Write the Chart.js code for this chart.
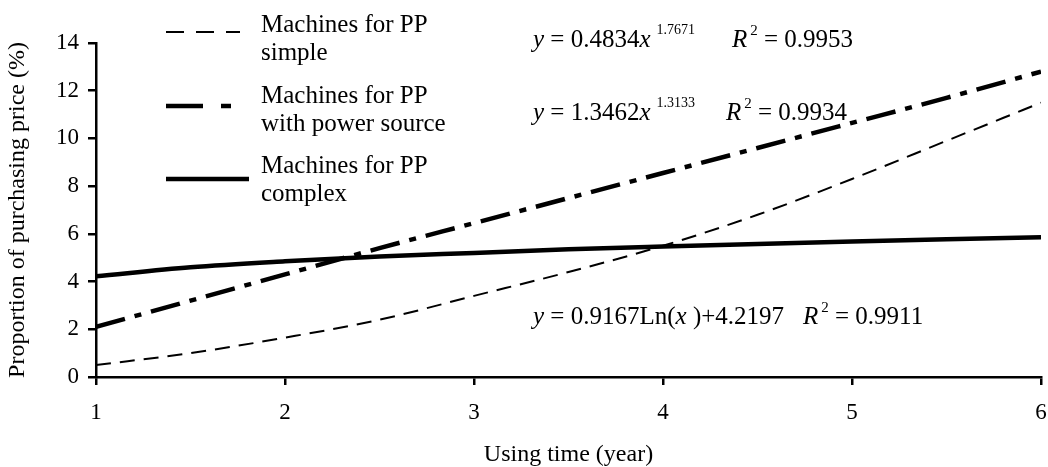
<!DOCTYPE html>
<html>
<head>
<meta charset="utf-8">
<script src="https://cdn.jsdelivr.net/npm/chart.js@4"></script>
<style>
  html, body { margin: 0; padding: 0; background: #fff; }
  #wrap { width: 1048px; height: 467px; position: relative; }
</style>
</head>
<body>
<div id="wrap"><canvas id="chart"></canvas></div>
<script>
var years = [1, 1.5, 2, 2.5, 3, 3.5, 4, 4.5, 5, 5.5, 6];
var ppSimple = [0.5, 1.0, 1.65, 2.4, 3.4, 4.4, 5.5, 6.8, 8.3, 9.9, 11.5];
var ppPower = [2.1, 3.2, 4.3, 5.4, 6.45, 7.5, 8.55, 9.6, 10.65, 11.7, 12.8];
var ppComplex = [4.22, 4.6, 4.85, 5.05, 5.2, 5.35, 5.47, 5.58, 5.68, 5.77, 5.86];
var seriesNames = [["Machines for PP", "simple"], ["Machines for PP", "with power source"], ["Machines for PP", "complex"]];
var yTicks = [0, 2, 4, 6, 8, 10, 12, 14];
var xTicks = [1, 2, 3, 4, 5, 6];
var equations = [
    { main: [["y", 1], [" = 0.4834", 0], ["x", 1]], pow: "1.7671", r2: "0.9953" },
    { main: [["y", 1], [" = 1.3462", 0], ["x", 1]], pow: "1.3133", r2: "0.9934" },
    { main: [["y", 1], [" = 0.9167Ln(", 0], ["x", 1], [" )+4.2197", 0]], pow: "", r2: "0.9911" }
];

var SERIF = '"Liberation Serif", "Times New Roman", serif';

function pts(ys) {
    return years.map(function (x, i) { return { x: x, y: ys[i] }; });
}

// legend drawn by hand, the series names are two lines each
var legendPlugin = {
    id: 'twoLineLegend',
    afterDraw: function (chart) {
        var ctx = chart.ctx;
        var sampleY = [32, 106, 179];
        var textY = [32, 103, 173];
        var lens = [74, 66, 83];
        ctx.save();
        chart.data.datasets.forEach(function (ds, i) {
            ctx.beginPath();
            ctx.strokeStyle = ds.borderColor;
            ctx.lineWidth = ds.borderWidth;
            ctx.setLineDash(ds.legendDash);
            ctx.moveTo(166, sampleY[i]);
            ctx.lineTo(166 + lens[i], sampleY[i]);
            ctx.stroke();
            ctx.setLineDash([]);
            ctx.fillStyle = '#000';
            ctx.font = '25px ' + SERIF;
            ctx.textBaseline = 'alphabetic';
            seriesNames[i].forEach(function (line, j) {
                ctx.fillText(line, 261, textY[i] + j * 28);
            });
        });
        ctx.restore();
    }
};

var eqPlugin = {
    id: 'equations',
    afterDraw: function (chart) {
        var ctx = chart.ctx;
        var spots = [[533, 47, 732], [533, 120, 726], [533, 324, 803]];
        ctx.save();
        ctx.fillStyle = '#000';
        ctx.textBaseline = 'alphabetic';
        equations.forEach(function (eq, i) {
            var x = spots[i][0], y = spots[i][1];
            eq.main.forEach(function (p) {
                ctx.font = (p[1] ? 'italic ' : '') + '25px ' + SERIF;
                ctx.fillText(p[0], x, y);
                x += ctx.measureText(p[0]).width;
            });
            if (eq.pow) {
                ctx.font = '14px ' + SERIF;
                ctx.fillText(eq.pow, x + 6, y - 13);
            }
            x = spots[i][2];
            ctx.font = 'italic 25px ' + SERIF;
            ctx.fillText('R', x, y);
            x += ctx.measureText('R').width + 3;
            ctx.font = '15px ' + SERIF;
            ctx.fillText('2', x, y - 12);
            x += ctx.measureText('2').width;
            ctx.font = '25px ' + SERIF;
            ctx.fillText(' = ' + eq.r2, x, y);
        });
        ctx.restore();
    }
};

var ctx = document.getElementById('chart');
var chart = new Chart(ctx, {
    type: 'line',
    data: {
        datasets: [{
            label: seriesNames[0].join(' '),
            data: pts(ppSimple),
            borderColor: '#000',
            borderWidth: 2,
            borderDash: [15, 9],
            legendDash: [18, 12],
            pointRadius: 0,
            cubicInterpolationMode: 'monotone'
        }, {
            label: seriesNames[1].join(' '),
            data: pts(ppPower),
            borderColor: '#000',
            borderWidth: 4.5,
            borderDash: [30, 10, 7, 10],
            legendDash: [37, 18, 10, 30],
            pointRadius: 0,
            cubicInterpolationMode: 'monotone'
        }, {
            label: seriesNames[2].join(' '),
            data: pts(ppComplex),
            borderColor: '#000',
            borderWidth: 4.5,
            borderDash: [],
            legendDash: [],
            pointRadius: 0,
            cubicInterpolationMode: 'monotone'
        }]
    },
    options: {
        responsive: true,
        maintainAspectRatio: false,
        animation: false,
        layout: { padding: { top: 43, right: 7, left: 0, bottom: 0 } },
        plugins: {
            legend: { display: false },
            tooltip: { enabled: false }
        },
        scales: {
            x: {
                type: 'linear',
                min: 1,
                max: 6,
                afterFit: function (s) { s.height = 90; s.paddingLeft = 0; s.paddingRight = 0; },
                afterBuildTicks: function (s) { s.ticks = xTicks.map(function (v) { return { value: v }; }); },
                grid: { drawOnChartArea: false, color: '#000', lineWidth: 2.5, tickLength: 8 },
                border: { color: '#000', width: 2.5 },
                ticks: { color: '#000', padding: 14, maxRotation: 0, font: { family: SERIF, size: 23 } },
                title: { display: true, text: 'Using time (year)', color: '#000', padding: { top: 0, bottom: 0 }, font: { family: SERIF, size: 24, lineHeight: 1 } }
            },
            y: {
                min: 0,
                max: 14,
                afterFit: function (s) { s.width = 96; s.paddingTop = 0; s.paddingBottom = 0; },
                afterBuildTicks: function (s) { s.ticks = yTicks.map(function (v) { return { value: v }; }); },
                grid: { drawOnChartArea: false, color: '#000', lineWidth: 2.5, tickLength: 8 },
                border: { color: '#000', width: 2.5 },
                ticks: { color: '#000', padding: 9, font: { family: SERIF, size: 23 } },
                title: { display: true, text: 'Proportion of purchasing price (%)', color: '#000', padding: { top: 6, bottom: 0 }, font: { family: SERIF, size: 24, lineHeight: 1 } }
            }
        }
    },
    plugins: [legendPlugin, eqPlugin]
});
</script>
</body>
</html>
